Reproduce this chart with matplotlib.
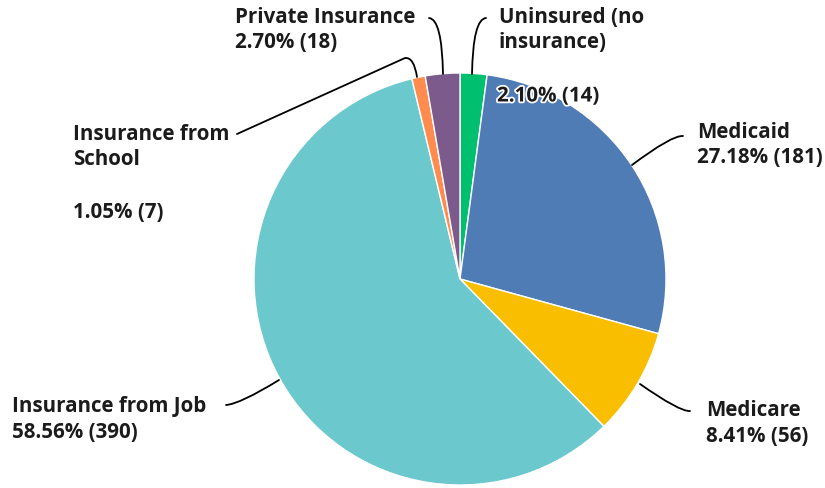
import matplotlib
matplotlib.use("Agg")
import matplotlib.pyplot as plt
from matplotlib.path import Path
from matplotlib.patches import PathPatch
import matplotlib.patheffects as pe

categories = ["Uninsured (no insurance)", "Medicaid", "Medicare",
              "Insurance from Job", "Insurance from School", "Private Insurance"]
percents = [2.10, 27.18, 8.41, 58.56, 1.05, 2.70]
counts = [14, 181, 56, 390, 7, 18]
colors = ["#00bf6f", "#507cb6", "#f9be00", "#6bc8cd", "#ff8b4f", "#7d5a8c"]

W, H = 825, 489
fig = plt.figure(figsize=(W / 100, H / 100), dpi=100)
ax = fig.add_axes([0, 0, 1, 1])

cx, cy, r = 460, H - 280, 206
ax.pie(counts, colors=colors, startangle=90, counterclock=False,
       center=(cx, cy), radius=r, frame=True,
       wedgeprops=dict(edgecolor="white", linewidth=1))
ax.set_xlim(0, W)
ax.set_ylim(0, H)
ax.set_aspect("auto")
ax.axis("off")

FONT = dict(family="Open Sans", weight="bold", fontsize=14.8, color="#1b1b1b")


def Y(y):
    return H - y


def txt(x, y, s, **kw):
    d = dict(FONT)
    d.update(kw)
    return ax.text(x, Y(y), s, va="center", ha="left", **d)


# labels
txt(235, 18, "Private Insurance")
txt(235, 43, f"{percents[5]:.2f}% ({counts[5]})")
txt(499, 18, "Uninsured (no")
txt(499, 43, "insurance)")
t = txt(497, 97, f"{percents[0]:.2f}% ({counts[0]})")
t.set_path_effects([pe.withStroke(linewidth=2.5, foreground="white")])
txt(697, 133, categories[1])
txt(697, 158, f"{percents[1]:.2f}% ({counts[1]})")
txt(706, 411, categories[2])
txt(706, 437, f"{percents[2]:.2f}% ({counts[2]})")
txt(12, 407, categories[3])
txt(12, 433, f"{percents[3]:.2f}% ({counts[3]})")
txt(73, 135, "Insurance from")
txt(73, 160, "School")
txt(73, 213, f"{percents[4]:.2f}% ({counts[4]})")


def leader(pts):
    verts = [(x, Y(y)) for x, y in pts]
    codes = [Path.MOVETO] + [Path.CURVE3] * (len(verts) - 1)
    ax.add_patch(PathPatch(Path(verts, codes), fill=False, edgecolor="black",
                           linewidth=1.3, capstyle="round"))


leader([(443, 75), (442, 20), (429, 19)])          # private
leader([(472, 75), (473, 20), (486, 19)])          # uninsured
leader([(417, 78), (414, 58), (405, 59), (237, 135), (237, 135)])  # school
leader([(632, 166), (672, 136), (683, 137)])       # medicaid
leader([(640, 385), (680, 413), (690, 412)])       # medicare
leader([(279, 381), (240, 405), (226, 406)])       # job

fig.savefig("out.png", dpi=100)
